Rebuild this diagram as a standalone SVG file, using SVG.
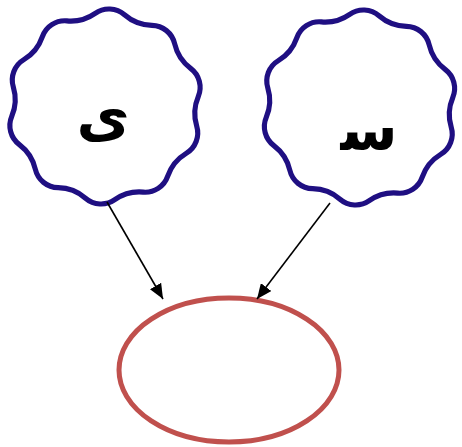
<svg xmlns="http://www.w3.org/2000/svg" width="462" height="447" viewBox="0 0 462 447">
<style>
.wavy{fill:#fff;stroke:#1f0f82;stroke-width:5;stroke-linejoin:round}
.lbl{font-family:"DejaVu Sans",sans-serif;font-weight:bold;fill:#000;text-anchor:middle}
.conn{stroke:#000;stroke-width:1.6;fill:none}
</style>
<defs>
<path id="wave" d="M -14.23 -89.88 A23.1 23.1 0 0 1 14.23 -89.88 A41.6 41.6 0 0 0 41.31 -81.08 A23.1 23.1 0 0 1 64.35 -64.35 A41.6 41.6 0 0 0 81.08 -41.31 A23.1 23.1 0 0 1 89.88 -14.23 A41.6 41.6 0 0 0 89.88 14.23 A23.1 23.1 0 0 1 81.08 41.31 A41.6 41.6 0 0 0 64.35 64.35 A23.1 23.1 0 0 1 41.31 81.08 A41.6 41.6 0 0 0 14.23 89.88 A23.1 23.1 0 0 1 -14.23 89.88 A41.6 41.6 0 0 0 -41.31 81.08 A23.1 23.1 0 0 1 -64.35 64.35 A41.6 41.6 0 0 0 -81.08 41.31 A23.1 23.1 0 0 1 -89.88 14.23 A41.6 41.6 0 0 0 -89.88 -14.23 A23.1 23.1 0 0 1 -81.08 -41.31 A41.6 41.6 0 0 0 -64.35 -64.35 A23.1 23.1 0 0 1 -41.31 -81.08 A41.6 41.6 0 0 0 -14.23 -89.88 Z"/>
<marker id="arr" markerWidth="15" markerHeight="13" refX="15" refY="6.5" orient="auto" markerUnits="userSpaceOnUse">
<path d="M0,0 L15,6.5 L0,13 Z" fill="#000"/>
</marker>
</defs>
<g id="node-yeh">
<use href="#wave" class="wavy" transform="translate(105,106.5) rotate(3) scale(1.03)"/>
<text class="lbl" x="103" y="136" font-size="58">ی</text>
</g>
<g id="node-sin">
<use href="#wave" class="wavy" transform="translate(359.5,107.5) rotate(3) scale(1.03)"/>
<text class="lbl" x="369" y="150" font-size="58">س‍</text>
</g>
<g id="node-result">
<ellipse cx="229" cy="370" rx="110" ry="72" fill="#fff" stroke="#c0504d" stroke-width="5"/>
</g>
<g id="connectors">
<line class="conn" x1="107" y1="202" x2="163" y2="299" marker-end="url(#arr)"/>
<line class="conn" x1="330" y1="203" x2="257" y2="299" marker-end="url(#arr)"/>
</g>
</svg>
